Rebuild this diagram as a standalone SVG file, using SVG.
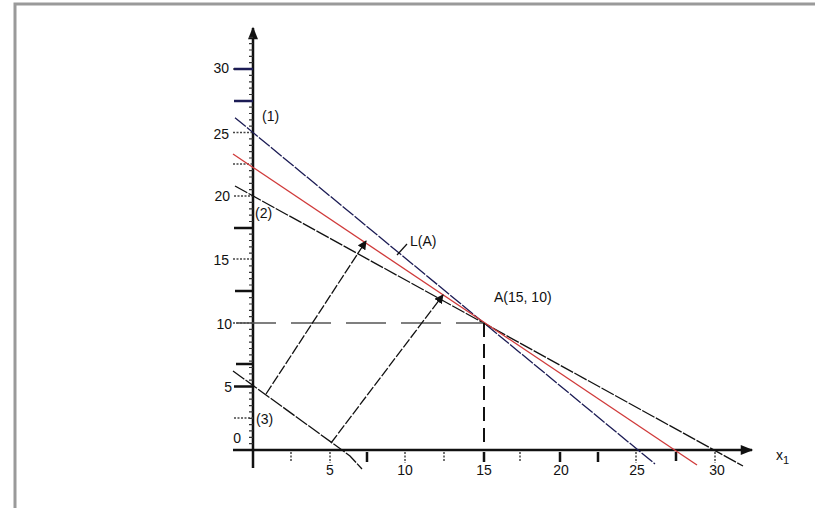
<svg xmlns="http://www.w3.org/2000/svg" width="815" height="508" viewBox="0 0 815 508">
<defs>
<style>
.lbl{font-family:"Liberation Sans",Arial,sans-serif;font-size:14px;fill:#111}
.frame{stroke:#9a9a9a;stroke-width:3;fill:none}
.ax{stroke:#111;stroke-width:2.5;fill:none}
.minor{stroke:#333;stroke-width:1.2}
.thick{stroke:#111;stroke-width:2.5}
.dot{stroke:#444;stroke-width:1.5;stroke-dasharray:2 1.5}
.c1{stroke:#1c1c55;stroke-width:1.3;fill:none;stroke-dasharray:14 1.5}
.c2{stroke:#111;stroke-width:1.3;fill:none;stroke-dasharray:14 1.5}
.obj{stroke:#d03a3a;stroke-width:1.3;fill:none}
.arr{stroke:#111;stroke-width:1.3;fill:none;stroke-dasharray:10 2;marker-end:url(#ah)}
</style>
<marker id="ah" viewBox="0 0 10 10" refX="9" refY="5" markerWidth="7" markerHeight="7" orient="auto-start-reverse">
<path d="M0,0 L10,5 L0,10 z" fill="#111"/>
</marker>
<marker id="axh" viewBox="0 0 10 10" refX="9" refY="5" markerWidth="6" markerHeight="5" orient="auto">
<path d="M0,1 L10,5 L0,9 z" fill="#111"/>
</marker>
</defs>
<rect width="815" height="508" fill="#fff"/>
<path class="frame" d="M15,508 V4 H815"/>

<g id="axes">
<line class="ax" x1="233" y1="450" x2="752" y2="450" marker-end="url(#axh)"/>
<line class="ax" x1="253" y1="468" x2="253" y2="28" marker-end="url(#axh)"/>
<g id="y-minor-ticks">
<path class="minor" d="M249,443.6H253M249,437.3H253M249,430.9H253M249,424.6H253M249,418.3H253M249,411.9H253M249,405.6H253M249,399.2H253M249,392.9H253M249,380.2H253M249,373.8H253M249,367.5H253M249,361.1H253M249,354.8H253M249,348.5H253M249,342.1H253M249,335.8H253M249,329.4H253M249,316.7H253M249,310.4H253M249,304H253M249,297.7H253M249,285H253M249,278.6H253M249,272.3H253M249,265.9H253M249,253.2H253M249,246.9H253M249,240.5H253M249,234.2H253M249,221.5H253M249,215.1H253M249,208.8H253M249,202.4H253M249,189.7H253M249,183.4H253M249,177H253M249,170.7H253M249,158H253M249,151.6H253M249,145.3H253M249,138.9H253M249,126.2H253M249,119.9H253M249,113.5H253M249,107.2H253M249,94.5H253M249,88.1H253M249,81.8H253M249,75.4H253M249,62.7H253M249,56.4H253M249,50H253M249,43.7H253M249,37.3H253"/>
</g>
<g id="y-major-ticks">
<path class="dot" d="M234,418H253M233,323H253M233,259H253M233,164H253M234,196H253M233,132.5H253M233,69H253"/>
<path class="thick" d="M234,386.5H253M236,364H253M235,291H253M234,228H253"/>
<path stroke="#1c1c55" stroke-width="2.5" d="M234,101H253M234,69H253"/>
</g>
<g id="x-ticks">
<path class="dot" d="M291,452V461M330,452V463M405,452V463M444,452V461M520,452V461M636,452V463M715,452V463"/>
<path class="thick" d="M367,452V462M484,452V462M560,452V462M598,452V462M676,452V461"/>
</g>
</g>

<g id="line-1">
<line class="c1" x1="235" y1="117.7" x2="655" y2="464"/>
</g>
<g id="line-2">
<line class="c2" x1="235" y1="186" x2="743" y2="466"/>
</g>
<g id="objective-line">
<line class="obj" x1="233" y1="154" x2="697" y2="465"/>
</g>
<g id="line-3">
<polyline class="c2" points="233,371 342,450 350,456 362,469"/>
</g>
<g id="guides">
<line x1="233" y1="323" x2="484" y2="323" stroke="#555" stroke-width="1.6" stroke-dasharray="40 15" stroke-dashoffset="-3"/>
<line x1="484" y1="323" x2="484" y2="450" stroke="#111" stroke-width="2" stroke-dasharray="14 7"/>
</g>

<g id="connectors">
<line class="arr" x1="266" y1="394" x2="366" y2="241"/>
<line class="arr" x1="331" y1="443" x2="443" y2="295"/>
<line stroke="#111" stroke-width="1.2" x1="397" y1="255" x2="407" y2="244"/>
</g>

<g id="labels">
<text class="lbl" x="229" y="73" text-anchor="end">30</text>
<text class="lbl" x="229" y="139" text-anchor="end">25</text>
<text class="lbl" x="230" y="201" text-anchor="end">20</text>
<text class="lbl" x="229" y="265" text-anchor="end">15</text>
<text class="lbl" x="232" y="329" text-anchor="end">10</text>
<text class="lbl" x="232" y="392" text-anchor="end">5</text>
<text class="lbl" x="241" y="443" text-anchor="end">0</text>
<text class="lbl" x="330" y="475" text-anchor="middle">5</text>
<text class="lbl" x="405" y="475" text-anchor="middle">10</text>
<text class="lbl" x="484" y="475" text-anchor="middle">15</text>
<text class="lbl" x="561" y="475" text-anchor="middle">20</text>
<text class="lbl" x="637" y="475" text-anchor="middle">25</text>
<text class="lbl" x="717" y="475" text-anchor="middle">30</text>
<text class="lbl" x="776" y="460" font-size="16">x<tspan font-size="11" dy="4">1</tspan></text>
<text class="lbl" x="262" y="121">(1)</text>
<text class="lbl" x="255" y="218">(2)</text>
<text class="lbl" x="256" y="424">(3)</text>
<text class="lbl" x="410" y="246">L(A)</text>
<text class="lbl" x="494" y="302">A(15, 10)</text>
</g>
</svg>
